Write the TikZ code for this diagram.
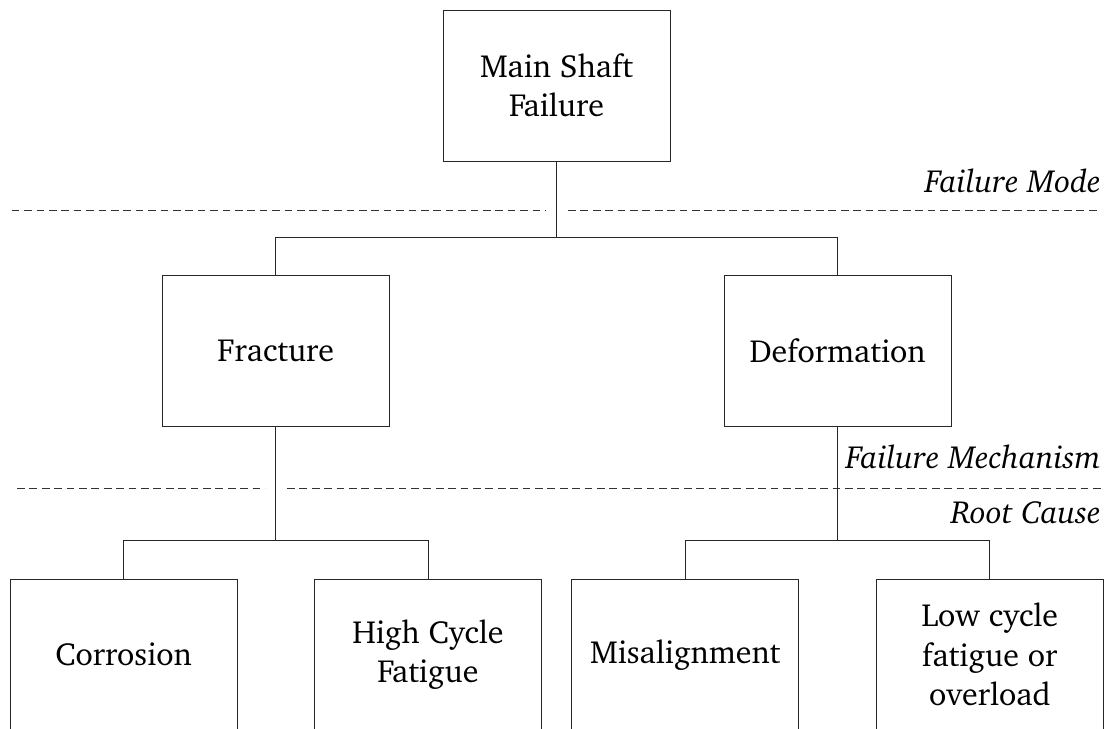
\documentclass[tikz,border=0pt]{standalone}
\usepackage[T1]{fontenc}
\usepackage{charter}
\begin{document}
\begin{tikzpicture}[x=0.75pt,y=-0.75pt,
  box/.style={draw=black!85, line width=0.75pt, rectangle, minimum width=170.25pt, minimum height=113.25pt, inner sep=0pt, align=center, font=\fontsize{24}{29.5}\selectfont},
  conn/.style={draw=black!85, line width=0.75pt},
  dline/.style={draw=black!80, line width=0.75pt, dash pattern=on 5.8pt off 3.5pt},
  lvl/.style={anchor=base east, inner sep=0pt, font=\fontsize{24}{29}\selectfont\itshape}]
\useasboundingbox (0,0) rectangle (1113,728);
% dashed level separators
\draw[dline] (11.7,210.7) -- (546,210.7);
\draw[dline] (568,210.7) -- (1101,210.7);
\draw[dline] (17,488) -- (265,488);
\draw[dline] (287,488) -- (1101,488);
% level labels
\node[lvl] (lmode) at (1101,192) {Failure Mode};
\node[lvl] (lmech) at (1101,468) {Failure Mechanism};
\node[lvl] (lroot) at (1101,523) {Root Cause};
% boxes
\node[box] (main) at (556.5,85.5) {Main Shaft\\Failure};
\node[box] (frac) at (275.8,351.2) {Fracture};
\node[box] (deform) at (837.5,351.2) {Deformation};
\node[box] (corr) at (123.5,654.5) {Corrosion};
\node[box] (hcf) at (428,654.5) {High Cycle\\Fatigue};
\node[box] (mis) at (685.3,654.5) {Misalignment};
\node[box] (lcf) at (989.8,654.5) {Low cycle\\fatigue or\\overload};
% junctions
\coordinate (j1) at (556.5,237.5);
\coordinate (j2) at (275.8,540.7);
\coordinate (j3) at (837.5,540.7);
% connectors
\draw[conn] (main) -- (j1) -| (frac);
\draw[conn] (j1) -| (deform);
\draw[conn] (frac) -- (j2) -| (corr);
\draw[conn] (j2) -| (hcf);
\draw[conn] (deform) -- (j3) -| (mis);
\draw[conn] (j3) -| (lcf);
\end{tikzpicture}
\end{document}
